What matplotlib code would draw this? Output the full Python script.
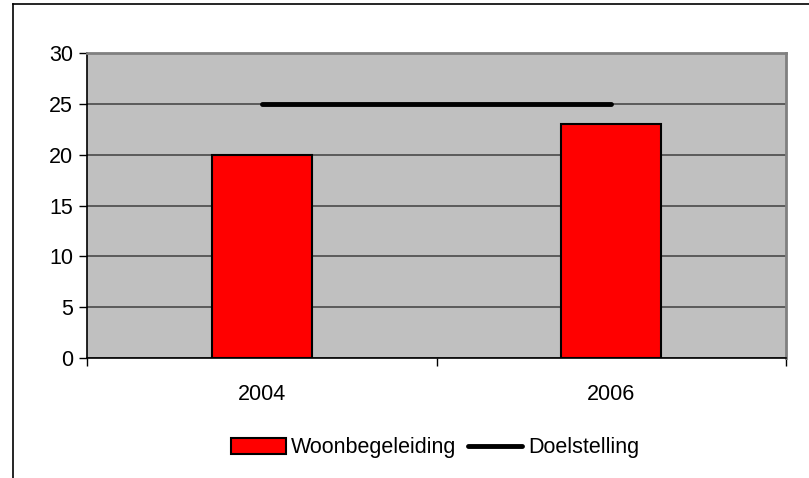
import matplotlib.pyplot as plt
import numpy as np

# data
years = ['2004', '2006']
woonbegeleiding = [20, 23]
doelstelling = [25, 25]

plt.rcParams['font.family'] = ['Liberation Sans', 'DejaVu Sans']
fs = 15.5

fig = plt.figure(figsize=(8.09, 4.78), dpi=100)
# outer chart frame (left and top edges visible)
fig.add_artist(plt.Line2D([13/809, 13/809], [0, 1 - 4/478], color='black', lw=1.2))
fig.add_artist(plt.Line2D([13/809, 1], [1 - 4/478, 1 - 4/478], color='black', lw=1.2))

ax = fig.add_axes([87/809, 1 - 358/478, (786 - 87)/809, (358 - 53)/478])
ax.set_facecolor('#c0c0c0')

x = np.arange(len(years))
bars = ax.bar(x, woonbegeleiding, width=0.286, color='#ff0000', edgecolor='black',
              linewidth=1.5, label='Woonbegeleiding', zorder=3)
line, = ax.plot(x, doelstelling, color='black', lw=3.5, solid_capstyle='round',
                label='Doelstelling', zorder=4)

ax.set_xlim(-0.5, 1.5)
ax.set_ylim(0, 30)
ax.set_yticks(range(0, 31, 5))
ax.yaxis.grid(True, color='#4a4a4a', lw=1.2, zorder=1)
ax.set_axisbelow(True)

ax.set_xticks(x)
ax.set_xticklabels(years)
ax.set_xticks([-0.5, 0.5, 1.5], minor=True)
ax.tick_params(axis='x', which='major', length=0, pad=19, labelsize=fs)
ax.tick_params(axis='x', which='minor', length=6, width=1, color='black')
ax.tick_params(axis='y', length=6, width=1, labelsize=fs, pad=4)

for side in ['left', 'bottom']:
    ax.spines[side].set_color('black')
    ax.spines[side].set_linewidth(1.2)
for side in ['top', 'right']:
    ax.spines[side].set_color('#808080')
    ax.spines[side].set_linewidth(2)

fig.legend([bars, line], ['Woonbegeleiding', 'Doelstelling'],
           loc='center', bbox_to_anchor=(435/809, 1 - 448/478), ncol=2,
           frameon=False, fontsize=fs, handlelength=2.55, handletextpad=0.25,
           columnspacing=0.5, handleheight=0.7)

fig.savefig('out.png', dpi=100)
